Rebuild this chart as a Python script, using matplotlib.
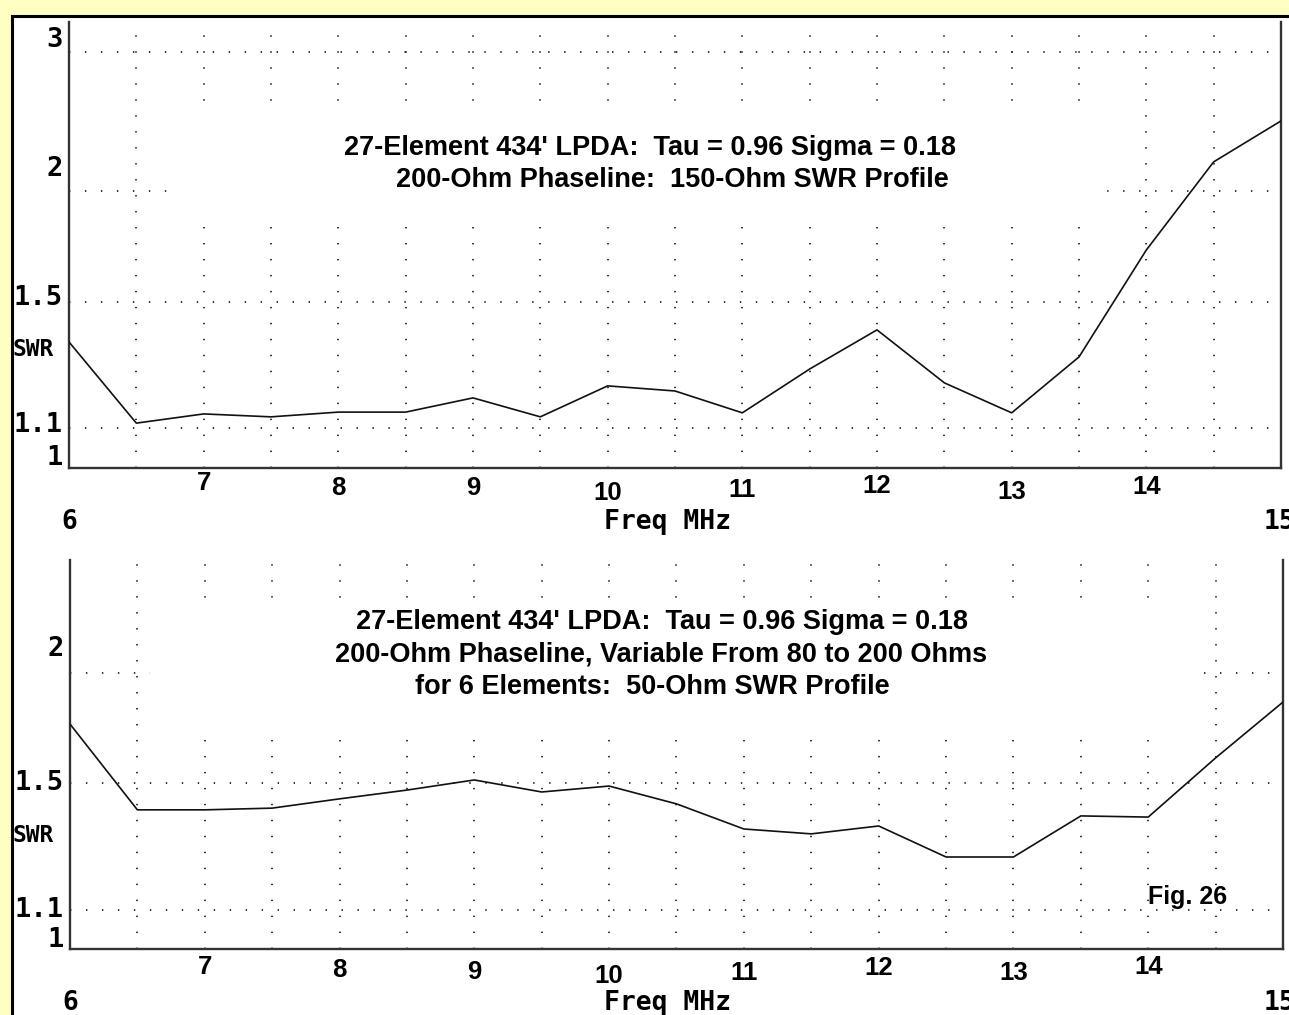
import numpy as np
import matplotlib
matplotlib.use("Agg")
import matplotlib.pyplot as plt
from matplotlib.patches import Rectangle

plt.rcParams['lines.scale_dashes'] = False

# ========== 数据 ==========
FREQ = [6.0, 6.5, 7.0, 7.5, 8.0, 8.5, 9.0, 9.5, 10.0, 10.5,
        11.0, 11.5, 12.0, 12.5, 13.0, 13.5, 14.0, 14.5, 15.0]
SWR_150 = [1.357, 1.114, 1.139, 1.131, 1.144, 1.144, 1.184, 1.131, 1.219, 1.204,
           1.142, 1.270, 1.398, 1.228, 1.142, 1.308, 1.710, 2.164, 2.431]
SWR_50 = [1.746, 1.404, 1.404, 1.410, 1.443, 1.475, 1.513, 1.468, 1.490, 1.425,
          1.339, 1.323, 1.349, 1.250, 1.250, 1.383, 1.379, 1.600, 1.850]

X_LABELS = [7, 8, 9, 10, 11, 12, 13, 14]
TOP_Y_TICKS = [1, 1.1, 1.5, 2, 3]
TOP_Y_LABELS = ['1', '1.1', '1.5', '2', '3']
BOT_Y_TICKS = [1, 1.1, 1.5, 2]
BOT_Y_LABELS = ['1', '1.1', '1.5', '2']

TITLE_150 = ["27-Element 434' LPDA:  Tau = 0.96 Sigma = 0.18",
             "200-Ohm Phaseline:  150-Ohm SWR Profile"]
TITLE_50 = ["27-Element 434' LPDA:  Tau = 0.96 Sigma = 0.18",
            "200-Ohm Phaseline, Variable From 80 to 200 Ohms",
            "for 6 Elements:  50-Ohm SWR Profile"]

# ========== 版式 ==========
W, H = 1289, 1015
MONO = ['DejaVu Sans Mono']
NARROW = ['Liberation Sans Narrow', 'Liberation Sans', 'DejaVu Sans']


def px_box(l, t, r, b):
    return [l / W, 1 - b / H, (r - l) / W, (b - t) / H]


def fwd(s):
    s = np.asarray(s, dtype=float)
    return (s - 1) / (s + 1)


def inv(r):
    r = np.clip(np.asarray(r, dtype=float), -0.99, 0.99)
    return (1 + r) / (1 - r)


def draw_panel(fig, box, swr, ymax, yticks, ylabels, ylab_dy, xlab_dy,
               titles, title_xy, blank, swr_y):
    l, t, r, b = box
    ax = fig.add_axes(px_box(l, t, r, b))
    ax.set_facecolor('none')
    ax.set_yscale('function', functions=(fwd, inv))
    ax.set_xlim(6, 15)
    ax.set_ylim(1, ymax)

    ax.set_xticks(np.arange(6.5, 15, 0.5))
    ax.set_yticks(yticks[1:])
    ax.tick_params(length=0, labelleft=False, labelbottom=False)
    ax.grid(True, color='#222222', linestyle=(0, (1, 10.5)), linewidth=1.3)
    ax.set_axisbelow(True)

    for side in ['left', 'bottom', 'right']:
        ax.spines[side].set_color('#333333')
        ax.spines[side].set_linewidth(1.7)
    ax.spines['top'].set_visible(False)

    # 标题区域遮挡网格
    bl, bt, br, bb = blank
    ax.add_patch(Rectangle(((bl - l) / (r - l), (b - bb) / (b - t)),
                           (br - bl) / (r - l), (bb - bt) / (b - t),
                           transform=ax.transAxes, facecolor='white',
                           edgecolor='none', zorder=1.8))

    ax.plot(FREQ, swr, color='#111111', linewidth=1.2, zorder=3)

    # y 轴标签
    for val, lab, dy in zip(yticks, ylabels, ylab_dy):
        ax.annotate(lab, xy=(0, val), xycoords=ax.get_yaxis_transform(),
                    xytext=(-6, dy), textcoords='offset pixels',
                    ha='right', va='center', fontsize=19.5, fontweight='bold',
                    family=MONO, annotation_clip=False)
    fig.text(12 / W, 1 - swr_y / H, 'SWR', ha='left', va='center',
             fontsize=16.5, fontweight='bold', family=MONO)

    # x 轴标签
    for val, dy in zip(X_LABELS, xlab_dy):
        ax.annotate(str(val), xy=(val, 0), xycoords=ax.get_xaxis_transform(),
                    xytext=(0, -dy), textcoords='offset pixels',
                    ha='center', va='center', fontsize=18.5, fontweight='bold',
                    family=NARROW, annotation_clip=False)
    y_freq = 1 - (b + 54) / H
    fig.text(l / W, y_freq, '6', ha='center', va='center', fontsize=19,
             fontweight='bold', family=MONO)
    fig.text(1264 / W, y_freq, '15', ha='left', va='center', fontsize=19,
             fontweight='bold', family=MONO)
    fig.text(668 / W, y_freq, 'Freq MHz', ha='center', va='center',
             fontsize=19, fontweight='bold', family=MONO)

    for line, (cx, cy) in zip(titles, title_xy):
        fig.text(cx / W, 1 - cy / H, line, ha='center', va='center',
                 fontsize=19.5, fontweight='bold', family=NARROW)
    return ax


fig = plt.figure(figsize=(W / 100, H / 100), dpi=100, facecolor='#FFFFC4')
fig.patches.append(Rectangle((12 / W, -0.05), 1.1, 1 - 16 / H + 0.05,
                             transform=fig.transFigure, facecolor='white',
                             edgecolor='black', linewidth=2.2, zorder=-10))

draw_panel(fig, (69, 22, 1281, 468), SWR_150, 3.31,
           TOP_Y_TICKS, TOP_Y_LABELS, [10, 3, 4, 22, 12],
           [15, 20, 20, 25, 22, 18, 24, 19],
           TITLE_150, [(650, 148), (672, 180)],
           (175, 110, 1100, 225), 350)

draw_panel(fig, (70, 560, 1283, 949), SWR_50, 2.772,
           BOT_Y_TICKS, BOT_Y_LABELS, [9, 0, 0, 24],
           [18, 21, 23, 27, 24, 19, 24, 18],
           TITLE_50, [(662, 622), (661, 655), (652, 687)],
           (150, 600, 1195, 735), 835)

fig.text(1188 / W, 1 - 897 / H, 'Fig. 26', ha='center', va='center',
         fontsize=18, fontweight='bold', family=NARROW)

fig.savefig('out.png', dpi=100, facecolor=fig.get_facecolor())
plt.close(fig)
